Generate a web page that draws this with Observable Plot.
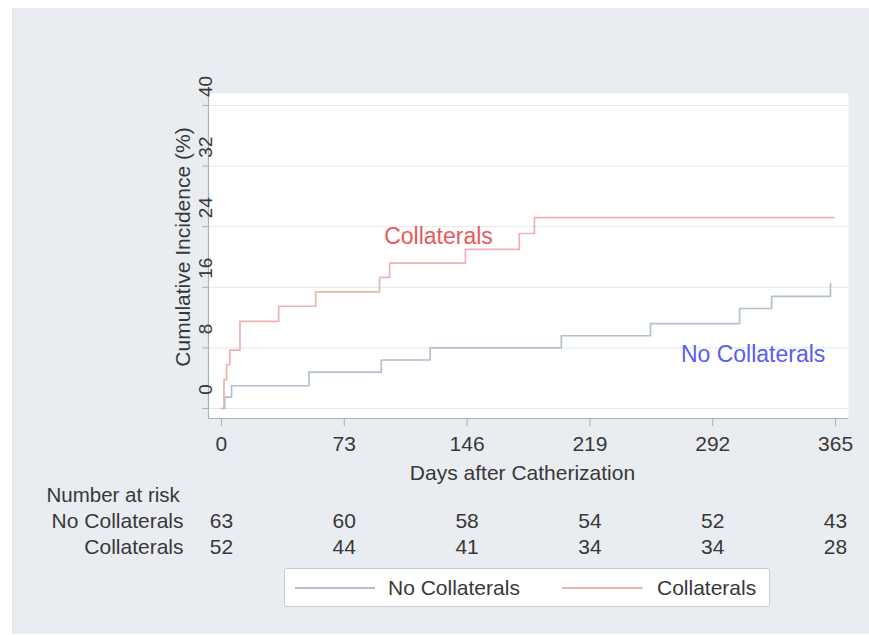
<!DOCTYPE html>
<html>
<head>
<meta charset="utf-8">
<script src="https://cdn.jsdelivr.net/npm/d3@7"></script>
<script src="https://cdn.jsdelivr.net/npm/@observablehq/plot@0.6"></script>
<style>
  html, body { margin: 0; padding: 0; background: #ffffff; }
  body { width: 869px; height: 635px; position: relative; overflow: hidden; font-family: "Liberation Sans", Arial, sans-serif; }
  #bg { position: absolute; left: 12px; top: 8px; width: 857px; height: 626px; background: #e9edf1; border-left: 2px solid #e1e6ea; box-sizing: border-box; }
  #chart { position: absolute; left: 0; top: 0; }
  #legend { position: absolute; left: 284px; top: 568px; width: 486px; height: 39px; background: #ffffff; border: 1px solid #c9ced4; box-sizing: border-box; border-radius: 2px; }
  .sw { position: absolute; height: 2px; top: 18px; }
  .lt { position: absolute; top: 7px; font-size: 21px; color: #383838; line-height: 24px; white-space: nowrap; }
</style>
</head>
<body>
<div id="bg"></div>
<div id="chart"></div>
<div id="legend">
  <div class="sw" style="left:10px; width:80px; background:#b3c0d0;"></div>
  <div class="lt" style="left:103px;">No Collaterals</div>
  <div class="sw" style="left:277px; width:81px; background:#eeb2b2;"></div>
  <div class="lt" style="left:372px;">Collaterals</div>
</div>
<script>
// ---- data ----
const xTicks = [0, 73, 146, 219, 292, 365];
const yTicks = [0, 8, 16, 24, 32, 40];

const collDays = [0, 1.5, 3, 5, 11, 34, 56, 94, 100, 145, 177, 186, 364];
const collInc  = [0, 3.8, 5.8, 7.7, 11.5, 13.5, 15.4, 17.3, 19.2, 21.0, 23.1, 25.2, 25.2];

const noCollDays = [0, 2, 6, 52, 95, 124, 202, 255, 308, 327, 362];
const noCollInc  = [0, 1.5, 3.0, 4.8, 6.4, 8.0, 9.6, 11.2, 13.2, 14.8, 16.5];

const riskNoColl = [63, 60, 58, 54, 52, 43];
const riskColl   = [52, 44, 41, 34, 34, 28];

const groupLabels = ["No Collaterals", "Collaterals"];
const labelDay = [316, 129];
const labelInc = [7.1, 22.7];

// ---- build tables ----
const coll = collDays.map((d, i) => ({day: d, inc: collInc[i]}));
const noColl = noCollDays.map((d, i) => ({day: d, inc: noCollInc[i]}));
const labels = groupLabels.map((g, i) => ({g, day: labelDay[i], inc: labelInc[i]}));

const axisColor = "#a9b1ba";
const textColor = "#383838";
const xDom = [-7.7, 372.7];
const yDom = [-1.32, 41.58];

const chart = Plot.plot({
  width: 869,
  height: 635,
  marginLeft: 208,
  marginRight: 21,
  marginTop: 93,
  marginBottom: 217,
  style: {background: "transparent", fontFamily: '"Liberation Sans", Arial, sans-serif', fontSize: "20px", color: textColor, overflow: "visible"},
  x: {domain: xDom},
  y: {domain: yDom},
  marks: [
    Plot.frame({fill: "white", stroke: null}),
    Plot.gridY(yTicks, {stroke: "#e3e8ed", strokeOpacity: 1, strokeWidth: 1}),
    Plot.ruleX([xDom[0]], {stroke: axisColor, strokeWidth: 1.2}),
    Plot.ruleY([yDom[0]], {stroke: axisColor, strokeWidth: 1.2}),
    Plot.axisX(xTicks, {tickSize: 8, tickFormat: () => "", label: null, color: axisColor}),
    Plot.axisY(yTicks, {tickSize: 6, tickFormat: () => "", label: null, color: axisColor}),
    // tick labels
    Plot.text(xTicks, {x: d => d, text: d => String(d), frameAnchor: "bottom", dy: 32, fill: textColor, fontSize: 21}),
    Plot.text(yTicks, {y: d => d, text: d => String(d), frameAnchor: "left", dx: -3, dy: -19, rotate: -90, textAnchor: "middle", fill: textColor, fontSize: 19}),
    // axis titles
    Plot.text(["Cumulative Incidence (%)"], {frameAnchor: "left", dx: -25, dy: -9, rotate: -90, textAnchor: "middle", fill: textColor, fontSize: 21}),
    Plot.text(["Days after Catherization"], {frameAnchor: "bottom", dx: -6, dy: 61, fill: textColor, fontSize: 21}),
    // curves
    Plot.line(noColl, {x: "day", y: "inc", curve: "step-after", stroke: "#b3c0d0", strokeWidth: 1.7}),
    Plot.line(coll, {x: "day", y: "inc", curve: "step-after", stroke: "#eeb2b2", strokeWidth: 1.7}),
    // curve labels
    Plot.text(labels, {x: "day", y: "inc", text: "g", fill: (d, i) => i === 0 ? "#5b5cf0" : "#e85a5a", fontSize: 23}),
    // number at risk table
    Plot.text(["Number at risk"], {frameAnchor: "bottom-left", dx: -162, dy: 83, textAnchor: "start", fill: textColor, fontSize: 20.5}),
    Plot.text(["No Collaterals"], {frameAnchor: "bottom-left", dx: -25, dy: 109, textAnchor: "end", fill: textColor, fontSize: 21}),
    Plot.text(["Collaterals"], {frameAnchor: "bottom-left", dx: -25, dy: 135, textAnchor: "end", fill: textColor, fontSize: 21}),
    Plot.text(xTicks, {x: d => d, text: (d, i) => String(riskNoColl[i]), frameAnchor: "bottom", dy: 109, fill: textColor, fontSize: 21}),
    Plot.text(xTicks, {x: d => d, text: (d, i) => String(riskColl[i]), frameAnchor: "bottom", dy: 135, fill: textColor, fontSize: 21})
  ]
});
document.getElementById("chart").appendChild(chart);
</script>
</body>
</html>
